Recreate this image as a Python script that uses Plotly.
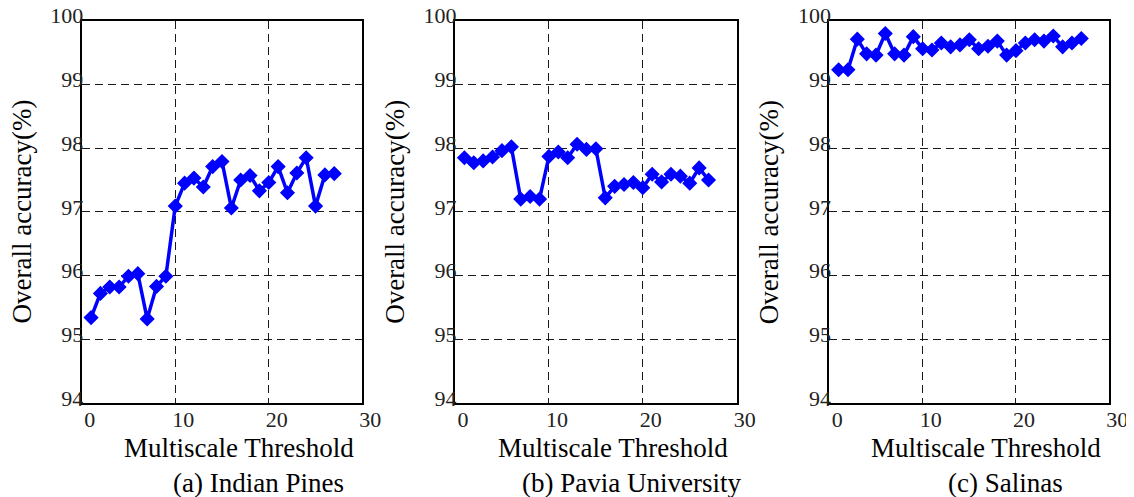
import plotly.graph_objects as go

thresholds = list(range(1, 28))

indian_pines = [95.34, 95.72, 95.82, 95.82, 95.99, 96.03, 95.32, 95.83, 95.99,
                97.09, 97.45, 97.53, 97.39, 97.71, 97.79, 97.06, 97.50, 97.57,
                97.33, 97.46, 97.71, 97.30, 97.61, 97.85, 97.09, 97.58, 97.60]

pavia_university = [97.85, 97.77, 97.80, 97.86, 97.96, 98.02, 97.20, 97.24, 97.20,
                    97.87, 97.94, 97.85, 98.06, 97.98, 97.99, 97.22, 97.40, 97.43,
                    97.46, 97.38, 97.59, 97.47, 97.59, 97.56, 97.45, 97.69, 97.50]

salinas = [99.23, 99.23, 99.71, 99.48, 99.46, 99.80, 99.48, 99.46, 99.75,
           99.56, 99.54, 99.65, 99.59, 99.62, 99.70, 99.56, 99.60, 99.68,
           99.46, 99.53, 99.65, 99.70, 99.68, 99.76, 99.59, 99.65, 99.72]

captions = ["(a) Indian Pines", "(b) Pavia University", "(c) Salinas"]
series = [indian_pines, pavia_university, salinas]

x_ticks = [0, 10, 20, 30]
y_ticks = [94, 95, 96, 97, 98, 99, 100]

# the page body has an 8px margin, so the figure is drawn 8px in from the corner
OFF = 8
W, H = 1134 - OFF, 497 - OFF
FONT = "Liberation Serif"
panels_px = [(81.7, 362.3), (455.0, 736.7), (829.3, 1109.3)]
top_px, bot_px = 20.7, 403.0


def fx(px):
    return (px - OFF) / W


def fy(py):
    return 1 - (py - OFF) / H


ydom = [fy(bot_px), fy(top_px)]

fig = go.Figure()
for i, (vals, cap) in enumerate(zip(series, captions)):
    n = "" if i == 0 else str(i + 1)
    fig.add_trace(go.Scatter(
        x=thresholds, y=vals, mode="lines+markers",
        line=dict(color="#0000FF", width=3.5),
        marker=dict(symbol="diamond", size=10, color="#0000FF",
                    line=dict(color="#0000FF", width=1.5)),
        xaxis="x" + n, yaxis="y" + n, showlegend=False))
    l, r = panels_px[i]
    axcommon = dict(showline=True, linecolor="black", linewidth=2, mirror=True,
                    showgrid=True, gridcolor="#1a1a1a", gridwidth=1.2,
                    griddash="8px,5px", zeroline=False, ticks="",
                    automargin=False, ticklabeloverflow="allow",
                    tickfont=dict(family=FONT, size=22, color="#222222"))
    fig.layout["xaxis" + n] = dict(
        domain=[fx(l), fx(r)], range=[0, 30], tickvals=x_ticks,
        anchor="y" + n, ticklabelshift=8, ticklabelstandoff=-4, **axcommon)
    fig.layout["yaxis" + n] = dict(
        domain=ydom, range=[94, 100], tickvals=y_ticks,
        anchor="x" + n, ticklabelshift=-5, ticklabelstandoff=-8, **axcommon)
    cx = (l + r) / 2
    fig.add_annotation(
        x=fx(l - 60), y=fy((top_px + bot_px) / 2), xref="paper", yref="paper",
        text="Overall accuracy(%)", textangle=-90, showarrow=False,
        font=dict(family=FONT, size=27, color="black"),
        xanchor="center", yanchor="middle")
    fig.add_annotation(
        x=fx(cx + 17), y=fy(448), xref="paper", yref="paper",
        text="Multiscale Threshold", showarrow=False,
        font=dict(family=FONT, size=27, color="black"),
        xanchor="center", yanchor="middle")
    fig.add_annotation(
        x=fx(cx + 36), y=fy(483), xref="paper", yref="paper",
        text=cap, showarrow=False,
        font=dict(family=FONT, size=27, color="black"),
        xanchor="center", yanchor="middle")

fig.update_layout(
    template="none",
    width=W, height=H, margin=dict(l=0, r=0, t=0, b=0, autoexpand=False),
    paper_bgcolor="white", plot_bgcolor="white",
    font=dict(family=FONT))

fig.write_html("out.html")
